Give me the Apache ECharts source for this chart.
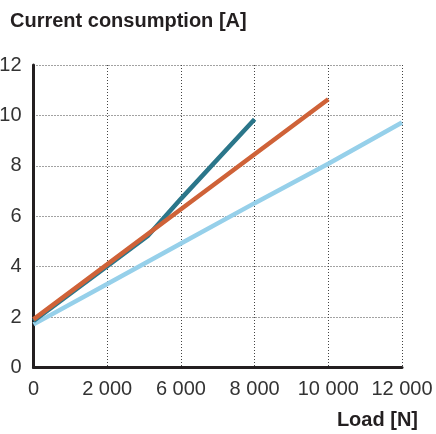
<!DOCTYPE html>
<html>
<head>
<meta charset="utf-8">
<script src="https://cdn.jsdelivr.net/npm/echarts@6/dist/echarts.min.js"></script>
<style>
html,body{margin:0;padding:0;background:#fff;}
#chart{width:436px;height:434px;}
</style>
</head>
<body>
<div id="chart"></div>
<script>
// Tick loads as printed on the x axis (N)
const xTickLoads = [0, 2000, 6000, 8000, 10000, 12000];
const yTicks = [0, 2, 4, 6, 8, 10, 12];

// Series: load [N] and current [A]
const tealLoad = [0, 2000, 4200, 6000, 8000];
const tealCurrent = [1.85, 4.02, 5.22, 6.69, 9.85];

const orangeLoad = [0, 2000, 6000, 8000, 10000];
const orangeCurrent = [1.91, 4.09, 6.28, 8.46, 10.64];

const blueLoad = [0, 2000, 6000, 8000, 10000, 12000];
const blueCurrent = [1.71, 3.31, 4.92, 6.52, 8.08, 9.72];

// axis positions follow the printed tick labels (equally spaced)
function loadToPos(load) {
  for (let i = 0; i < xTickLoads.length - 1; i++) {
    const a = xTickLoads[i], b = xTickLoads[i + 1];
    if (load <= b) return i + (load - a) / (b - a);
  }
  return xTickLoads.length - 1;
}
function fmt(n) {
  return String(n).replace(/\B(?=(\d{3})+(?!\d))/g, ' ');
}
function pairs(xs, ys) {
  return xs.map((x, i) => [loadToPos(x), ys[i]]);
}

const chart = echarts.init(document.getElementById('chart'));
const FONT = '"Liberation Sans", Arial, sans-serif';
const gridLine = { show: true, lineStyle: { color: '#444', width: 1, type: [1, 2] } };

chart.setOption({
  animation: false,
  title: [
    { text: 'Current consumption [A]', left: 10, top: 11, padding: 0,
      textStyle: { fontFamily: FONT, fontSize: 20, fontWeight: 'bold', color: '#231f20' } },
    { text: 'Load [N]', right: 18, top: 410, padding: 0,
      textStyle: { fontFamily: FONT, fontSize: 20, fontWeight: 'bold', color: '#231f20' } }
  ],
  grid: { left: 33.5, right: 34, top: 65, bottom: 66.5, containLabel: false, outerBoundsMode: 'none' },
  xAxis: {
    type: 'value', min: 0, max: xTickLoads.length - 1, interval: 1,
    axisLine: { show: true, onZero: false, lineStyle: { color: '#231f20', width: 3 } },
    axisTick: { show: false },
    splitLine: gridLine,
    axisLabel: { fontFamily: FONT, fontSize: 20, color: '#333', margin: 12,
      formatter: v => fmt(xTickLoads[Math.round(v)]) }
  },
  yAxis: {
    type: 'value', min: yTicks[0], max: yTicks[yTicks.length - 1], interval: 2,
    axisLine: { show: true, lineStyle: { color: '#231f20', width: 3 } },
    axisTick: { show: false },
    splitLine: gridLine,
    axisLabel: { fontFamily: FONT, fontSize: 20, color: '#333', margin: 12 }
  },
  series: [
    { type: 'line', data: pairs(blueLoad, blueCurrent), showSymbol: false,
      lineStyle: { color: '#96d0ea', width: 4.5 }, z: 2 },
    { type: 'line', data: pairs(tealLoad, tealCurrent), showSymbol: false,
      lineStyle: { color: '#2b768a', width: 4.5 }, z: 3 },
    { type: 'line', data: pairs(orangeLoad, orangeCurrent), showSymbol: false,
      lineStyle: { color: '#cf6238', width: 4.5 }, z: 4 }
  ]
});
</script>
</body>
</html>
